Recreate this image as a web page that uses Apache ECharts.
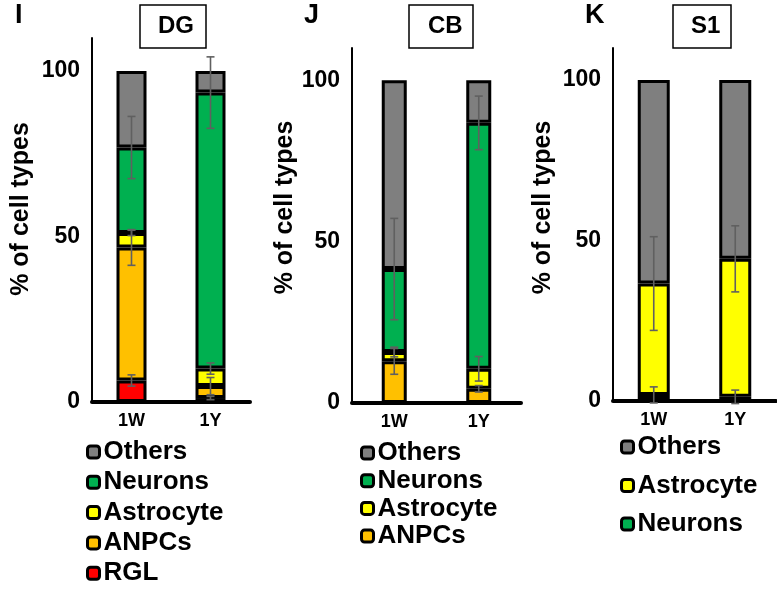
<!DOCTYPE html>
<html>
<head>
<meta charset="utf-8">
<script src="https://cdn.jsdelivr.net/npm/echarts@6/dist/echarts.min.js"></script>
<style>html,body{margin:0;padding:0;background:#fff}#c{width:777px;height:592px}</style>
</head>
<body>
<div id="c"></div>
<script>
// ---------- data ----------
const categories = ['1W', '1Y'];
const yTicks = [0, 50, 100];

// Panel I : DG (stack order bottom -> top)
const dgRGL       = [6.5, 1.2];
const dgANPCs     = [40.2, 3.6];
const dgAstrocyte = [4.4, 5.3];
const dgNeurons   = [25.8, 83.4];
const dgOthers    = [23.1, 6.5];
const dgRGLErr       = [1.7, 0.5];
const dgANPCsErr     = [5.4, 2.6];
const dgAstrocyteErr = [0.8, 1.7];
const dgNeuronsErr   = [9.4, 10.8];

// Panel J : CB
const cbANPCs     = [12.9, 4.4];
const cbAstrocyte = [2.9, 6.2];
const cbNeurons   = [25.7, 76.2];
const cbOthers    = [58.5, 13.2];
const cbANPCsErr     = [4.0, 1.0];
const cbAstrocyteErr = [1.5, 3.8];
const cbNeuronsErr   = [15.7, 8.3];

// Panel K : S1
const s1Neurons   = [1.9, 1.3];
const s1Astrocyte = [34.7, 43.0];
const s1Others    = [63.4, 55.7];
const s1NeuronsErr   = [2.5, 2.1];
const s1AstrocyteErr = [14.6, 10.3];

// ---------- styles ----------
const FONT = "'Liberation Sans', Arial, Helvetica, sans-serif";
const COLORS = {
  Others: '#7f7f7f', Neurons: '#00b050', Astrocyte: '#ffff00', ANPCs: '#ffc000', RGL: '#ff0000'
};

const panels = [
  {
    title: 'DG', letter: 'I',
    grid: { left: 92, top: 38, width: 158, height: 364 },
    barWidth: 30,
    stack: [['RGL', dgRGL, dgRGLErr], ['ANPCs', dgANPCs, dgANPCsErr], ['Astrocyte', dgAstrocyte, dgAstrocyteErr],
            ['Neurons', dgNeurons, dgNeuronsErr], ['Others', dgOthers, null]],
    legendOrder: ['Others', 'Neurons', 'Astrocyte', 'ANPCs', 'RGL'],
    legend: { left: 86, top: 439, itemGap: 4.3 },
    titleBox: { left: 140, top: 5, padding: [9, 12, 9, 18] },
    letterPos: { left: 15, top: 2 },
    nameGap: 58, namePad: 22
  },
  {
    title: 'CB', letter: 'J',
    grid: { left: 352, top: 48, width: 169, height: 355 },
    barWidth: 25,
    stack: [['ANPCs', cbANPCs, cbANPCsErr], ['Astrocyte', cbAstrocyte, cbAstrocyteErr],
            ['Neurons', cbNeurons, cbNeuronsErr], ['Others', cbOthers, null]],
    legendOrder: ['Others', 'Neurons', 'Astrocyte', 'ANPCs'],
    legend: { left: 360, top: 440, itemGap: 1.7 },
    titleBox: { left: 409, top: 5, padding: [9, 11, 9, 19] },
    letterPos: { left: 304, top: 2 },
    nameGap: 54, namePad: 36
  },
  {
    title: 'S1', letter: 'K',
    grid: { left: 613, top: 48, width: 163, height: 353 },
    barWidth: 32,
    stack: [['Neurons', s1Neurons, s1NeuronsErr], ['Astrocyte', s1Astrocyte, s1AstrocyteErr],
            ['Others', s1Others, null]],
    legendOrder: ['Others', 'Astrocyte', 'Neurons'],
    legend: { left: 620, top: 434, itemGap: 12.5 },
    titleBox: { left: 673, top: 5, padding: [9, 11, 9, 18] },
    letterPos: { left: 585, top: 2 },
    nameGap: 57, namePad: 34
  }
];

const option = {
  animation: false,
  backgroundColor: '#fff',
  textStyle: { fontFamily: FONT },
  title: [], grid: [], xAxis: [], yAxis: [], series: [], legend: []
};

panels.forEach((p, pi) => {
  option.grid.push(Object.assign({ containLabel: false }, p.grid));
  option.xAxis.push({
    type: 'category', gridIndex: pi, data: categories,
    axisLine: { lineStyle: { color: '#000', width: 4 } },
    axisTick: { show: false },
    axisLabel: { color: '#000', fontSize: 18, fontWeight: 'bold', fontFamily: FONT, margin: 10 }
  });
  option.yAxis.push({
    type: 'value', gridIndex: pi, min: 0, max: 110, interval: 50,
    name: '% of cell types', nameLocation: 'middle', nameGap: p.nameGap, nameRotate: 90,
    nameTextStyle: { color: '#000', fontSize: 25, fontWeight: 'bold', fontFamily: FONT, padding: [0, 0, 0, p.namePad] },
    axisLine: { show: true, lineStyle: { color: '#000', width: 2 } },
    axisTick: { show: false },
    splitLine: { show: false },
    axisLabel: {
      color: '#000', fontSize: 23, fontWeight: 'bold', fontFamily: FONT, margin: 12,
      showMaxLabel: false,
      formatter: v => (yTicks.indexOf(v) >= 0 ? String(v) : '')
    }
  });

  const cum = [0, 0];
  const errData = [];
  p.stack.forEach(([name, vals, errs]) => {
    option.series.push({
      name: name, type: 'bar', stack: 'p' + pi, xAxisIndex: pi, yAxisIndex: pi,
      barWidth: p.barWidth, data: vals,
      itemStyle: { color: COLORS[name], borderColor: '#000', borderWidth: 3 },
      emphasis: { disabled: true }, z: 2
    });
    vals.forEach((v, i) => {
      cum[i] += v;
      if (errs) errData.push([i, cum[i], errs[i]]);
    });
  });
  option.series.push({
    type: 'custom', xAxisIndex: pi, yAxisIndex: pi, z: 10, silent: true,
    data: errData,
    encode: { x: 0, y: 1 },
    renderItem: (params, api) => {
      const x = api.value(0), c = api.value(1), e = api.value(2);
      const t = api.coord([x, c + e]), b = api.coord([x, c - e]);
      const w = 4;
      const st = { stroke: '#606060', lineWidth: 1.6 };
      return {
        type: 'group', children: [
          { type: 'line', shape: { x1: t[0], y1: t[1], x2: b[0], y2: b[1] }, style: st },
          { type: 'line', shape: { x1: t[0] - w, y1: t[1], x2: t[0] + w, y2: t[1] }, style: st },
          { type: 'line', shape: { x1: b[0] - w, y1: b[1], x2: b[0] + w, y2: b[1] }, style: st }
        ]
      };
    }
  });

  option.legend.push({
    orient: 'vertical', left: p.legend.left, top: p.legend.top, padding: 0,
    itemGap: p.legend.itemGap, itemWidth: 12, itemHeight: 12, icon: 'roundRect',
    selectedMode: false,
    itemStyle: { borderColor: '#000', borderWidth: 3 },
    textStyle: { color: '#000', fontSize: 26, fontWeight: 'bold', fontFamily: FONT, lineHeight: 26, padding: [0, 0, 0, -1] },
    data: p.legendOrder
  });

  option.title.push({
    text: p.title, left: p.titleBox.left, top: p.titleBox.top, padding: p.titleBox.padding,
    borderColor: '#000', borderWidth: 1.5,
    textStyle: { color: '#000', fontSize: 24, fontWeight: 'bold', fontFamily: FONT, lineHeight: 25 }
  });
  option.title.push({
    text: p.letter, left: p.letterPos.left, top: p.letterPos.top, padding: 0,
    textStyle: { color: '#000', fontSize: 27, fontWeight: 'bold', fontFamily: FONT }
  });
});

const chart = echarts.init(document.getElementById('c'), null, { renderer: 'canvas' });
chart.setOption(option);
</script>
</body>
</html>
